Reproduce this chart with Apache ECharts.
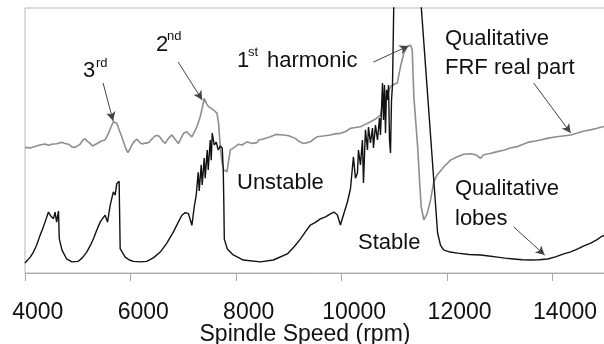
<!DOCTYPE html>
<html>
<head>
<meta charset="utf-8">
<script src="https://cdn.jsdelivr.net/npm/echarts@6/dist/echarts.min.js"></script>
<style>
  html, body { margin: 0; padding: 0; background: #fff; }
  #chart { width: 604px; height: 344px; }
</style>
</head>
<body>
<div id="chart"></div>
<script>
// x axis: spindle speed (rpm); y: qualitative amplitude (0-100, not labelled)
const speedTicks = [4000, 6000, 8000, 10000, 12000, 14000]

// qualitative stability lobes (black)
const lobeSpeed = [
  4000, 4030, 4100, 4160, 4220, 4285, 4330, 4380, 4445, 4490, 4540, 4570, 4600, 4635, 4650, 4700,
  4790, 4890, 5010, 5090, 5170, 5240, 5300, 5360, 5425, 5470, 5520, 5565, 5615, 5675, 5710, 5740,
  5785, 5805, 5900, 5980, 6055, 6200, 6310, 6440, 6565, 6690, 6815, 6900, 6975, 7040, 7100, 7165,
  7210, 7247, 7285, 7304, 7342, 7361, 7399, 7418, 7456, 7475, 7513, 7532, 7551, 7589, 7627, 7665,
  7703, 7741, 7760, 7770, 7780, 7836, 7950, 8140, 8463, 8710, 8975, 9100, 9222, 9320, 9412, 9500,
  9602, 9700, 9792, 9860, 9925, 9982, 10039, 10115, 10172, 10229, 10267, 10305, 10324, 10362, 10400, 10419,
  10457, 10495, 10514, 10552, 10590, 10609, 10647, 10685, 10723, 10742, 10780, 10799, 10818, 10837, 10856, 10875,
  10894, 10913, 10932, 10951, 10970, 10989, 10998, 11495, 11825, 11880, 11938, 12060, 12204, 12420, 12640, 12800,
  12963, 13100, 13267, 13430, 13590, 13750, 13913, 14060, 14217, 14350, 14483, 14600, 14729, 14850, 14919, 15000
]
const lobeValue = [
  3.8, 4.2, 6.0, 7.9, 10.5, 14.2, 16.4, 19.2, 23.0, 21.5, 20.5, 23.0, 19.2, 23.4, 13.0, 8.7,
  5.3, 4.2, 4.4, 5.8, 7.9, 10.4, 13.0, 16.1, 19.2, 20.5, 21.8, 19.2, 25.5, 30.6, 29.4, 33.7,
  34.6, 9.2, 6.0, 4.9, 4.4, 4.2, 4.4, 5.8, 7.9, 11.3, 15.5, 18.9, 21.8, 22.8, 22.4, 18.0,
  25.0, 29.4, 38.0, 31.0, 40.8, 33.2, 43.4, 35.8, 46.4, 38.9, 50.2, 42.6, 52.8, 48.3, 49.4, 46.4,
  47.9, 47.2, 38.9, 27.5, 12.8, 9.1, 6.8, 4.9, 4.2, 4.9, 7.2, 9.8, 12.8, 15.6, 18.1, 19.0,
  20.4, 21.2, 22.3, 23.0, 21.9, 18.1, 21.9, 26.8, 31.7, 43.8, 35.8, 37.7, 46.4, 40.8, 50.2, 34.0,
  54.0, 46.4, 55.1, 49.1, 54.7, 47.2, 55.8, 50.2, 58.5, 52.1, 71.7, 57.7, 70.9, 52.8, 69.1, 65.3,
  70.9, 50.2, 45.3, 65.3, 70.9, 71.3, 106, 106, 15.1, 10.5, 8.7, 7.9, 7.5, 7.0, 6.8, 6.4,
  6.0, 5.6, 5.3, 5.0, 4.9, 5.0, 5.3, 6.1, 7.2, 8.0, 9.1, 10.2, 11.3, 12.6, 13.6, 14.3
]

// qualitative FRF real part (grey)
const frfSpeed = [
  4000, 4100, 4190, 4280, 4380, 4450, 4507, 4600, 4697, 4760, 4823, 4890, 4950, 5000, 5044, 5100,
  5139, 5190, 5234, 5280, 5316, 5360, 5392, 5450, 5519, 5582, 5630, 5677, 5741, 5790, 5836, 5900,
  5950, 5990, 6026, 6070, 6121, 6170, 6216, 6280, 6342, 6400, 6469, 6520, 6564, 6610, 6659, 6720,
  6786, 6850, 6912, 6960, 7006, 7071, 7120, 7165, 7220, 7260, 7323, 7374, 7399, 7440, 7481, 7530,
  7576, 7640, 7671, 7703, 7735, 7766, 7830, 7893, 7988, 8050, 8115, 8210, 8305, 8400, 8431, 8520,
  8652, 8760, 8905, 9000, 9127, 9200, 9285, 9350, 9412, 9480, 9539, 9650, 9792, 9880, 9982, 10080,
  10172, 10270, 10362, 10425, 10530, 10640, 10742, 10805, 10868, 10932, 11000, 11059, 11122, 11185, 11249, 11312,
  11344, 11375, 11451, 11489, 11514, 11565, 11628, 11691, 11754, 11818, 11944, 12071, 12198, 12320, 12451, 12560,
  12641, 12700, 12800, 12958, 13100, 13200, 13338, 13450, 13560, 13680, 13779, 13900, 14050, 14200, 14350, 14480,
  14600, 14729, 14850, 15000
]
const frfValue = [
  47.4, 47.2, 47.7, 48.3, 48.7, 48.2, 48.6, 48.8, 49.3, 48.9, 48.6, 47.6, 47.4, 48.0, 48.6, 50.2,
  50.6, 49.6, 48.9, 47.9, 47.7, 48.8, 49.5, 49.8, 50.2, 52.7, 55.0, 57.1, 56.5, 53.8, 51.4, 47.6,
  45.4, 46.8, 48.3, 49.6, 50.5, 49.4, 48.7, 49.0, 49.2, 50.4, 51.8, 51.9, 51.2, 49.8, 48.9, 50.8,
  52.1, 50.4, 48.9, 50.9, 52.7, 53.3, 52.2, 51.4, 53.5, 55.2, 59.0, 63.4, 65.9, 64.0, 62.8, 62.2,
  61.5, 60.3, 56.5, 47.7, 42.0, 38.9, 38.2, 46.4, 47.7, 48.6, 48.3, 49.5, 48.9, 49.2, 50.2, 50.6,
  51.4, 52.3, 52.1, 51.8, 50.8, 49.6, 48.9, 49.2, 49.5, 50.6, 51.4, 51.7, 52.1, 52.5, 52.7, 53.4,
  54.6, 54.9, 55.2, 55.8, 56.8, 58.0, 59.6, 65.3, 67.2, 70.3, 71.2, 71.6, 77.9, 82.9, 85.4, 86.0,
  84.2, 66.5, 46.4, 32.6, 25.0, 20.0, 22.5, 27.5, 34.5, 37.0, 40.1, 42.6, 43.9, 44.8, 45.0, 44.5,
  43.3, 44.6, 45.0, 45.8, 46.4, 47.2, 47.7, 48.6, 49.4, 49.8, 50.2, 50.8, 51.3, 51.7, 52.1, 52.8,
  53.6, 54.0, 54.6, 55.4
]

// annotation arrows: [from speed, from value, to speed, to value]
const arrows = [
  [5481, 71.7, 5671, 57.4],
  [6905, 79.6, 7361, 65.3],
  [10609, 79.6, 11273, 85.7],
  [13647, 71.7, 14350, 52.8],
  [13267, 17.4, 13856, 6.8]
]

const zip = (xs, ys) => xs.map((x, i) => [x, ys[i]])
const font = '"Liberation Sans", Arial, sans-serif'
const txt = (x, y, text, size, lh) => ({
  type: 'text', x, y,
  style: { text, font: `${size}px ${font}`, fill: '#111', lineHeight: lh || size, verticalAlign: 'top' }
})

const chart = echarts.init(document.getElementById('chart'), null, { renderer: 'canvas' })
chart.setOption({
  animation: false,
  backgroundColor: '#fff',
  grid: {
    left: 25, right: -1, top: 8, bottom: 71, outerBoundsMode: 'none',
    show: true, borderColor: '#b8b8b8', borderWidth: 1
  },
  xAxis: {
    type: 'value', min: 4000, max: 15000, interval: 2000,
    name: 'Spindle Speed (rpm)', nameLocation: 'middle', nameGap: 50, nameMoveOverlap: false,
    nameTextStyle: { color: '#111', fontSize: 23, fontFamily: font, padding: [0, 20, 0, 0] },
    axisLine: { lineStyle: { color: '#aaa' } },
    axisTick: { length: 8, lineStyle: { color: '#aaa' } },
    // labels in the original sit a little right of their ticks
    axisLabel: { color: '#111', fontSize: 23, fontFamily: font, margin: 28,
      customValues: speedTicks, formatter: v => '    ' + v },
    splitLine: { show: false }
  },
  yAxis: {
    type: 'value', min: 0, max: 100,
    axisLine: { show: false }, axisTick: { show: false }, axisLabel: { show: false },
    splitLine: { show: false }
  },
  series: [
    {
      type: 'line', data: zip(frfSpeed, frfValue), symbol: 'none',
      lineStyle: { color: '#8e8e8e', width: 1.6 }, silent: true,
      markLine: {
        silent: true, symbol: ['none', 'arrow'], symbolSize: [7, 9],
        label: { show: false },
        lineStyle: { color: '#444', width: 1, type: 'solid' },
        data: arrows.map(a => [{ coord: [a[0], a[1]] }, { coord: [a[2], a[3]] }])
      }
    },
    {
      type: 'line', data: zip(lobeSpeed, lobeValue), symbol: 'none',
      lineStyle: { color: '#111', width: 1.4 }, silent: true
    }
  ],
  graphic: [
    txt(83, 60, '3', 22), txt(96, 57, 'rd', 13),
    txt(156, 34, '2', 22), txt(167, 30, 'nd', 13),
    txt(237, 50, '1', 22), txt(248, 46, 'st', 13), txt(267, 50, 'harmonic', 22),
    txt(237, 172, 'Unstable', 22),
    txt(358, 232, 'Stable', 22),
    txt(445, 24, 'Qualitative\nFRF real part', 22, 29),
    txt(455, 174, 'Qualitative\nlobes', 22, 30)
  ]
})
</script>
</body>
</html>
